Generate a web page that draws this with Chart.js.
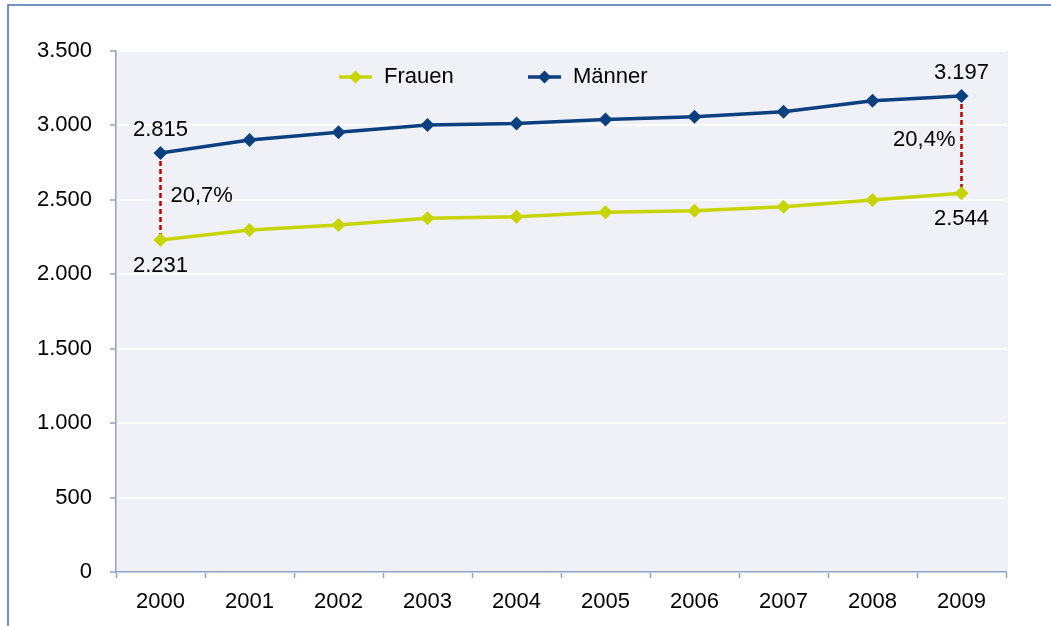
<!DOCTYPE html>
<html>
<head>
<meta charset="utf-8">
<script src="https://cdn.jsdelivr.net/npm/chart.js@4"></script>
<style>
  html, body { margin: 0; padding: 0; background: #fff; }
  #wrap { width: 1051px; height: 626px; position: relative; }
</style>
</head>
<body>
<div id="wrap"><canvas id="chart"></canvas></div>
<script>
// Daten
const years = ['2000', '2001', '2002', '2003', '2004', '2005', '2006', '2007', '2008', '2009'];
const frauen = [2231, 2297, 2331, 2376, 2387, 2416, 2427, 2454, 2499, 2544];
const maenner = [2815, 2902, 2954, 3003, 3013, 3040, 3058, 3092, 3166, 3197];
const yTicks = [0, 500, 1000, 1500, 2000, 2500, 3000, 3500];

const FONT = '"Liberation Sans", Arial, sans-serif';
const colFrauen = '#c8d400';
const colMaenner = '#0c3f7f';
const axisCol = '#8ea2c8';

function fmt(v) {
    return String(v).replace(/\B(?=(\d{3})+(?!\d))/g, '.');
}
function pct(a, b) {
    return (Math.round((a - b) / a * 1000) / 10).toFixed(1).replace('.', ',') + '%';
}

const extras = {
    id: 'extras',
    beforeDraw(chart) {
        const ctx = chart.ctx;
        const a = chart.chartArea;
        ctx.save();
        // Rahmen
        ctx.strokeStyle = '#4a6fb3';
        ctx.lineWidth = 1.5;
        ctx.strokeRect(8, 5, 1100, 700);
        // Hintergrund der Zeichenfläche
        ctx.fillStyle = '#eff1f7';
        ctx.fillRect(a.left, a.top, a.right - a.left + 2, a.bottom - a.top);
        ctx.restore();
    },
    beforeDatasetsDraw(chart) {
        const ctx = chart.ctx;
        const x = chart.scales.x, y = chart.scales.y;
        const last = years.length - 1;
        ctx.save();
        ctx.strokeStyle = '#c00000';
        ctx.lineWidth = 2.5;
        ctx.setLineDash([5, 3]);
        [0, last].forEach(i => {
            const px = x.getPixelForValue(i);
            ctx.beginPath();
            ctx.moveTo(px, y.getPixelForValue(maenner[i]));
            ctx.lineTo(px, y.getPixelForValue(frauen[i]));
            ctx.stroke();
        });
        ctx.restore();
    },
    afterDraw(chart) {
        const ctx = chart.ctx;
        const x = chart.scales.x, y = chart.scales.y;
        const last = years.length - 1;
        ctx.save();
        ctx.font = '22px ' + FONT;
        ctx.fillStyle = '#000';
        ctx.textBaseline = 'middle';
        ctx.textAlign = 'center';

        // Werte an den Enden
        [0, last].forEach(i => {
            const px = x.getPixelForValue(i);
            ctx.fillText(fmt(maenner[i]), px, y.getPixelForValue(maenner[i]) - 23);
            ctx.fillText(fmt(frauen[i]), px, y.getPixelForValue(frauen[i]) + 26);
        });

        // Abstand in Prozent
        const p0 = x.getPixelForValue(0);
        const m0 = (y.getPixelForValue(maenner[0]) + y.getPixelForValue(frauen[0])) / 2;
        ctx.textAlign = 'left';
        ctx.fillText(pct(maenner[0], frauen[0]), p0 + 10, m0);

        const pl = x.getPixelForValue(last);
        const ml = (y.getPixelForValue(maenner[last]) + y.getPixelForValue(frauen[last])) / 2;
        ctx.textAlign = 'right';
        ctx.fillText(pct(maenner[last], frauen[last]), pl - 6, ml - 5);

        // Legende
        const items = [
            { label: 'Frauen', color: colFrauen, x: 339 },
            { label: 'Männer', color: colMaenner, x: 528 }
        ];
        const ly = 77;
        items.forEach(it => {
            ctx.strokeStyle = it.color;
            ctx.fillStyle = it.color;
            ctx.lineWidth = 3.5;
            ctx.setLineDash([]);
            ctx.beginPath();
            ctx.moveTo(it.x, ly);
            ctx.lineTo(it.x + 33, ly);
            ctx.stroke();
            const cx = it.x + 16.5;
            ctx.beginPath();
            ctx.moveTo(cx, ly - 6.5);
            ctx.lineTo(cx + 6.5, ly);
            ctx.lineTo(cx, ly + 6.5);
            ctx.lineTo(cx - 6.5, ly);
            ctx.closePath();
            ctx.fill();
            ctx.fillStyle = '#000';
            ctx.textAlign = 'left';
            ctx.fillText(it.label, it.x + 45, ly);
        });
        ctx.restore();
    }
};

const ds = (label, data, color) => ({
    label: label,
    data: data,
    borderColor: color,
    backgroundColor: color,
    borderWidth: 3.5,
    pointStyle: 'rectRot',
    pointRadius: 7,
    pointHoverRadius: 7,
    pointBorderWidth: 0,
    tension: 0,
    clip: false
});

new Chart(document.getElementById('chart'), {
    type: 'line',
    data: {
        labels: years,
        datasets: [ds('Frauen', frauen, colFrauen), ds('Männer', maenner, colMaenner)]
    },
    options: {
        responsive: true,
        maintainAspectRatio: false,
        animation: false,
        events: [],
        layout: { autoPadding: false, padding: { left: 0, top: 51, right: 45, bottom: 0 } },
        plugins: { legend: { display: false }, tooltip: { enabled: false } },
        scales: {
            x: {
                offset: true,
                afterFit: s => { s.height = 54; },
                grid: { offset: true, drawOnChartArea: false, tickLength: 6, tickColor: axisCol, tickWidth: 1.5 },
                border: { color: axisCol, width: 1.5, z: 1 },
                ticks: { color: '#000', font: { family: FONT, size: 22 }, padding: 11, maxRotation: 0, autoSkip: false }
            },
            y: {
                min: 0,
                max: 3500,
                afterFit: s => { s.width = 116; },
                afterBuildTicks: s => { s.ticks = yTicks.map(v => ({ value: v })); },
                grid: { color: '#ffffff', lineWidth: 2, tickLength: 6, tickColor: axisCol, tickWidth: 1.5 },
                border: { color: axisCol, width: 1.5, z: 1 },
                ticks: { color: '#000', font: { family: FONT, size: 22 }, padding: 18, callback: v => fmt(v) }
            }
        }
    },
    plugins: [extras]
});
</script>
</body>
</html>
